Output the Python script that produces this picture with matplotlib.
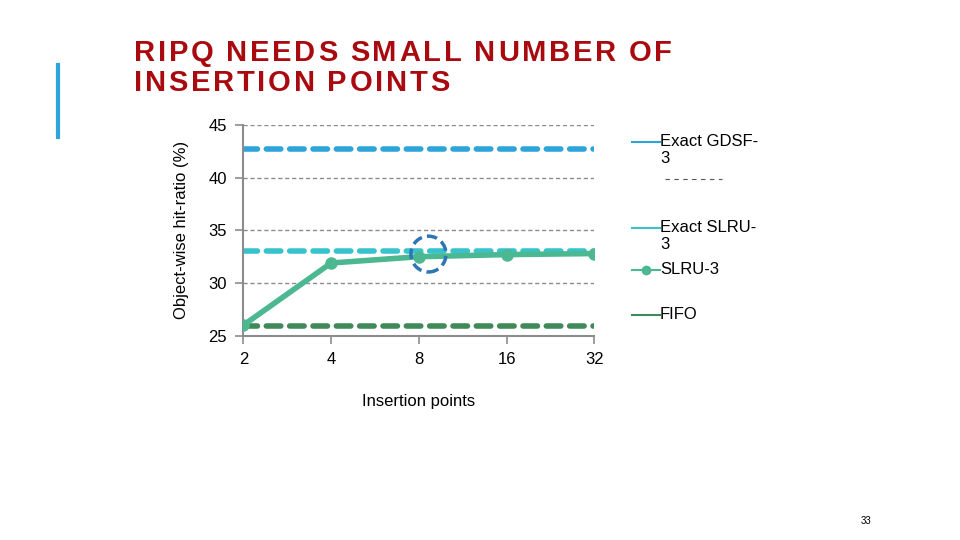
import matplotlib.pyplot as plt
from matplotlib.lines import Line2D
from matplotlib.patches import Ellipse

plt.rcParams['font.family'] = ['Liberation Sans', 'DejaVu Sans']

# data
insertion_points = ["2", "4", "8", "16", "32"]
exact_gdsf3 = [42.7, 42.7, 42.7, 42.7, 42.7]
exact_slru3 = [33.0, 33.0, 33.0, 33.0, 33.0]
slru3 = [26.0, 31.9, 32.5, 32.7, 32.8]
fifo = [25.9, 25.9, 25.9, 25.9, 25.9]
y_ticks = [25, 30, 35, 40, 45]

c_gdsf = '#2DA5DA'
c_exact = '#38C3CC'
c_slru = '#4CB892'
c_fifo = '#3F8A58'
c_grid = '#8C8C8C'

W, H = 960, 540
fig = plt.figure(figsize=(9.6, 5.4), dpi=100)
ax = fig.add_axes([0.2535, 0.3783, 0.3656, 0.3902])
x = list(range(len(insertion_points)))

# horizontal grid
for v in y_ticks[1:]:
    ax.axhline(v, color=c_grid, linestyle=(0, (3, 2)), linewidth=1, zorder=1)

dash = (0, (2.6, 1.6))
ax.plot(x, exact_gdsf3, color=c_gdsf, linestyle=dash, linewidth=4, dash_capstyle='round', zorder=2)
ax.plot(x, exact_slru3, color=c_exact, linestyle=dash, linewidth=4, dash_capstyle='round', zorder=2)
ax.plot(x, fifo, color=c_fifo, linestyle=dash, linewidth=4, dash_capstyle='round', zorder=2)
ax.plot(x, slru3, color=c_slru, linewidth=4, marker='o', markersize=8, zorder=3)

# highlight circle around 8
ax.add_patch(Ellipse((2.11, 32.75), 0.4, 3.4, fill=False, edgecolor='#2E75B6',
                     linewidth=2.5, linestyle=(0, (3, 1.5)), zorder=4))

ax.set_xlim(0, 4)
ax.set_ylim(25, 45)
ax.set_xticks(x)
ax.set_xticklabels(insertion_points)
ax.set_yticks(y_ticks)
ax.tick_params(axis='both', labelsize=12, color=c_grid, length=6, width=1.2, pad=6)
for s in ['top', 'right']:
    ax.spines[s].set_visible(False)
for s in ['left', 'bottom']:
    ax.spines[s].set_color(c_grid)
    ax.spines[s].set_linewidth(1.5)

ax.set_xlabel("Insertion points", fontsize=12, labelpad=19)
ax.set_ylabel("Object-wise hit-ratio (%)", fontsize=12, labelpad=14)

# legend placed by hand, as on the slide
legend_items = [
    ("Exact GDSF-\n3", c_gdsf, None, 142),
    ("Exact SLRU-\n3", c_exact, None, 228),
    ("SLRU-3", c_slru, 'o', 270),
    ("FIFO", c_fifo, None, 315),
]
for label, col, mk, ypix in legend_items:
    yy = 1 - ypix / H
    fig.add_artist(Line2D([632 / W, 646 / W, 660 / W], [yy, yy, yy], color=col,
                          linewidth=1.5, marker=mk, markersize=6, markevery=[1],
                          transform=fig.transFigure))
    fig.text(660 / W, 1 - (ypix - 8) / H, label, fontsize=12, va='top', ha='left', linespacing=1.15)
# leftover dashed fragment in the legend
fig.add_artist(Line2D([665 / W, 722 / W], [1 - 179 / H, 1 - 179 / H], color='#555555',
                      linewidth=0.8, linestyle=(0, (4, 4)), transform=fig.transFigure))

# title with wide letter spacing
renderer = fig.canvas.get_renderer()
title_lines = ["RIPQ NEEDS SMALL NUMBER OF", "INSERTION POINTS"]
for i, line in enumerate(title_lines):
    xp = 134
    base = 61 + 30 * i
    for ch in line:
        t = fig.text(xp / W, 1 - base / H, ch, fontsize=21, fontweight='bold',
                     color='#A80A0F', va='baseline', ha='left')
        w = t.get_window_extent(renderer).width if ch != ' ' else 7.3
        xp += w + 2.7
fig.add_artist(Line2D([58 / W, 58 / W], [1 - 65 / H, 1 - 137 / H], color='#2DA5DA',
                      linewidth=3, transform=fig.transFigure))
fig.text(866 / W, 1 - 521 / H, "33", fontsize=7, ha='center', va='center')

fig.savefig("out.png", dpi=100)
